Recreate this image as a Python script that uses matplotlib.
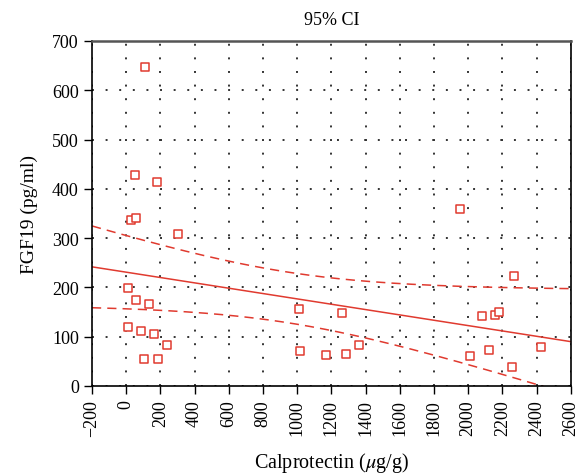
import numpy as np
import matplotlib.pyplot as plt

plt.rcParams['font.family'] = ['Liberation Serif', 'DejaVu Serif']
plt.rcParams['mathtext.fontset'] = 'stix'

# Calprotectin (ug/g) vs FGF19 (pg/ml)
calpro = [110, 53, 180, 31, 60, 303, 13, 58, 133, 10, 88, 164, 236, 105, 186,
          1011, 1018, 1167, 1265, 1286, 1360, 1955, 2270, 2078, 2156, 2180,
          2009, 2119, 2258, 2424]
fgf19 = [648, 427, 414, 336, 340, 308, 199, 174, 166, 120, 112, 105, 82, 55, 54,
         156, 70, 62, 148, 65, 83, 358, 222, 141, 143, 149, 61, 73, 39, 78]

x_ticks = list(range(-200, 2601, 200))
y_ticks = list(range(0, 701, 100))

red = '#e03a2f'

x = np.array(calpro, dtype=float)
y = np.array(fgf19, dtype=float)
n = len(x)

# least squares fit with 95% confidence band
slope, intercept = np.polyfit(x, y, 1)
resid = y - (intercept + slope * x)
s = np.sqrt(np.sum(resid ** 2) / (n - 2))
sxx = np.sum((x - x.mean()) ** 2)
t = 2.048  # t(0.975, 28)
xs = np.linspace(-200, 2600, 200)
fit = intercept + slope * xs
half = t * s * np.sqrt(1 / n + (xs - x.mean()) ** 2 / sxx)

fig = plt.figure(figsize=(5.86, 4.77), dpi=100)
ax = fig.add_axes([0.157, 0.189, 0.817, 0.723])

ax.plot(xs, fit, color=red, lw=1.1)
ax.plot(xs, fit + half, color=red, lw=1.1, ls=(0, (6, 4)))
ax.plot(xs, fit - half, color=red, lw=1.1, ls=(0, (6, 4)))
ax.scatter(x, y, marker='s', s=30, facecolors='white', edgecolors=red,
           linewidths=1.1, zorder=3)

ax.set_xlim(-200, 2600)
ax.set_ylim(0, 700)
ax.set_xticks(x_ticks)
ax.set_yticks(y_ticks)
ax.set_xticklabels([str(v).replace('-', '\u2212') for v in x_ticks], rotation=90)
ax.tick_params(labelsize=13, direction='out', length=6, width=1)
ax.grid(True, ls=(0, (1, 6)), color='#333333', lw=1.4)

for sp in ax.spines.values():
    sp.set_linewidth(1.2)
ax.spines['top'].set_color('#555555')
ax.spines['top'].set_linewidth(1.8)

ax.set_xlabel('Calprotectin ($\\mu$g/g)', fontsize=14.5, labelpad=10)
ax.set_ylabel('FGF19 (pg/ml)', fontsize=14, labelpad=10)
ax.set_title('95% CI', fontsize=13, pad=12)

fig.savefig('out.png', dpi=100)
